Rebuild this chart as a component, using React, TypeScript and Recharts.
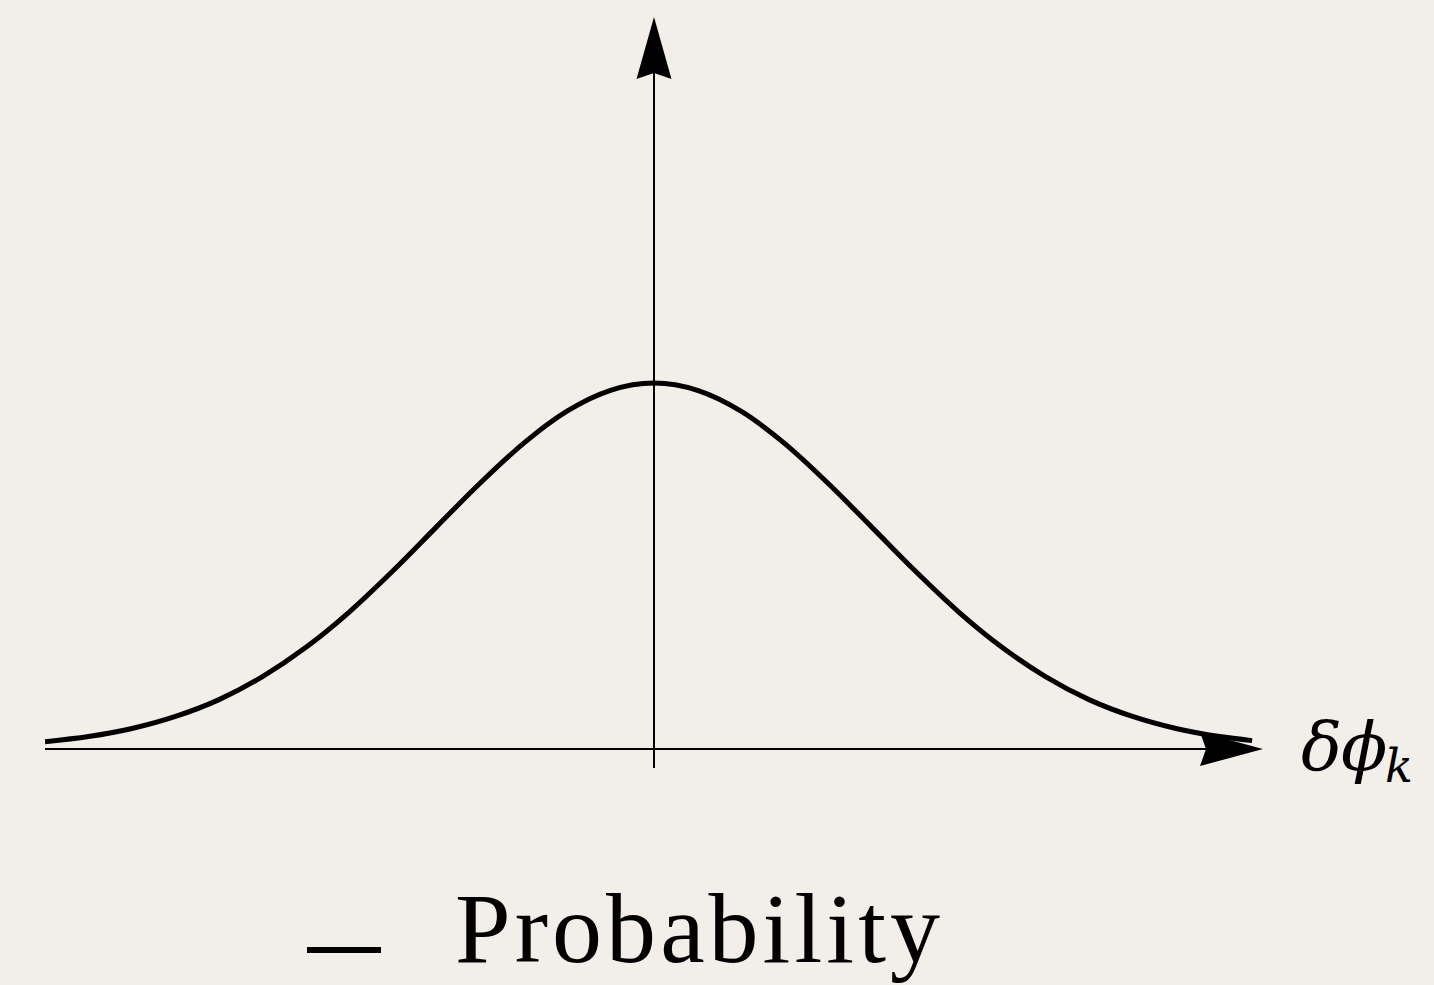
import React from 'react';
import { LineChart, Line, XAxis, YAxis, ReferenceLine, ReferenceDot, Legend } from 'recharts';

// Gaussian-looking probability curve over δφ_k
const phaseOffsets = [-2.8, -2.6, -2.4, -2.2, -2.0, -1.8, -1.6, -1.4, -1.2, -1.0, -0.8, -0.6, -0.4, -0.2, 0, 0.2, 0.4, 0.6, 0.8, 1.0, 1.2, 1.4, 1.6, 1.8, 2.0, 2.2, 2.4, 2.6, 2.75];
const probability = [0.02, 0.034, 0.056, 0.089, 0.135, 0.198, 0.278, 0.375, 0.487, 0.607, 0.726, 0.835, 0.923, 0.98, 1.0, 0.98, 0.923, 0.835, 0.726, 0.607, 0.487, 0.375, 0.278, 0.198, 0.135, 0.089, 0.056, 0.034, 0.023];

const X_RANGE: [number, number] = [-2.8, 2.8];
const Y_RANGE: [number, number] = [-0.06, 2];

const data = phaseOffsets.map((x, i) => ({ x, p: probability[i] }));

const BG = '#f2efea';
const MATH_FONT = "'DejaVu Serif', serif";

// notched arrowhead pointing up, tip at (cx, cy)
const UpArrow = (props: any) => {
  const { cx, cy } = props;
  return <path d={`M${cx},${cy} L${cx + 17.5},${cy + 62} L${cx},${cy + 56} L${cx - 17.5},${cy + 62} Z`} fill="#000" />;
};

// notched arrowhead pointing right, plus the axis name
const RightArrow = (props: any) => {
  const { cx, cy } = props;
  return (
    <g>
      <path d={`M${cx},${cy} L${cx - 63},${cy - 17} L${cx - 57},${cy} L${cx - 63},${cy + 17} Z`} fill="#000" />
      <text y={cy + 21} fontFamily={MATH_FONT} fontStyle="italic" fill="#000">
        <tspan x={cx + 38} fontSize={68}>δ</tspan>
        <tspan x={cx + 78} fontSize={68}>ϕ</tspan>
        <tspan x={cx + 122} dy={12} fontSize={46}>k</tspan>
      </text>
    </g>
  );
};

const LegendContent = (props: any) => {
  const item = (props.payload || [])[0];
  return (
    <svg width={700} height={105} style={{ overflow: 'visible' }}>
      <rect x={17} y={67} width={74} height={6} fill="#000" />
      <text x={165} y={82} fontFamily="'Liberation Serif', serif" fontSize={100} textLength={485} lengthAdjust="spacing" fill="#000">
        {item ? item.value : 'Probability'}
      </text>
    </svg>
  );
};

export default function App() {
  return (
    <div style={{ position: 'fixed', left: 0, top: 0, width: 1434, height: 985, background: BG }}>
      <LineChart width={1434} height={985} data={data} margin={{ top: 17, right: 171, bottom: 214, left: 45 }}>
        <XAxis type="number" dataKey="x" domain={X_RANGE} allowDataOverflow hide />
        <YAxis type="number" domain={Y_RANGE} allowDataOverflow hide />
        <ReferenceLine segment={[{ x: -2.8, y: 0 }, { x: 2.76, y: 0 }]} stroke="#000" strokeWidth={2} />
        <ReferenceLine segment={[{ x: 0, y: -0.052 }, { x: 0, y: 1.95 }]} stroke="#000" strokeWidth={2} />
        <Line
          type="monotone"
          dataKey="p"
          name="Probability"
          stroke="#000"
          strokeWidth={5}
          dot={false}
          isAnimationActive={false}
        />
        <ReferenceDot x={0} y={2} r={1} shape={UpArrow} />
        <ReferenceDot x={2.8} y={0} r={1} shape={RightArrow} />
        <Legend
          verticalAlign="middle"
          align="center"
          layout="horizontal"
          content={LegendContent}
          wrapperStyle={{ top: 880, left: 290, width: 700, height: 105 }}
        />
      </LineChart>
    </div>
  );
}
